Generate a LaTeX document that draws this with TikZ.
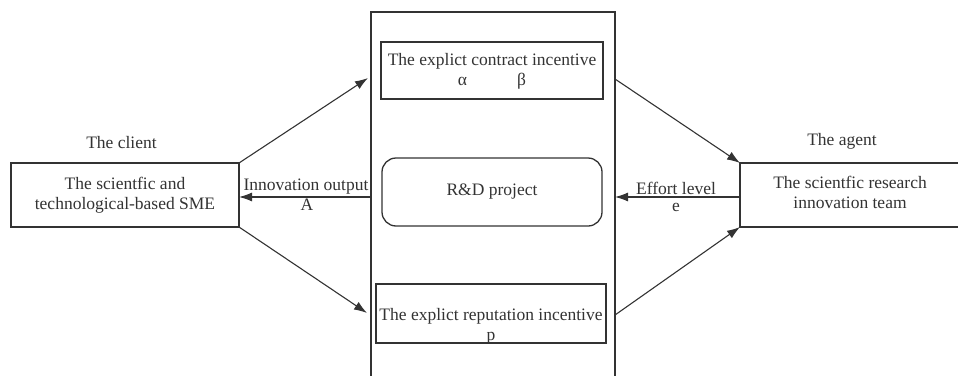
\documentclass[tikz,border=0pt]{standalone}
\usepackage{fontspec}
\setmainfont{Liberation Serif}
\usetikzlibrary{arrows.meta,positioning}
\definecolor{inkgray}{HTML}{333333}
\tikzset{%
	>={Latex[length=13pt,width=9pt]},
	every node/.style={inner sep=0pt,outer sep=0pt,text=inkgray,
		font=\fontsize{17.5}{20}\selectfont,align=center},%
	box/.style={draw=inkgray,line width=1.3pt},%
	roundbox/.style={box,rounded corners=14pt},%
	link/.style={->,draw=inkgray,line width=1.1pt}%
}

\begin{document}
\begin{tikzpicture}[x=1pt,y=-1pt]
		%% page frame
		\useasboundingbox (0,0) rectangle (958,375);
		\clip (0,0) rectangle (958,375);
		
		%% the project frame (open at the bottom)
		\coordinate (FL) at (371,12);
		\coordinate (FR) at (615,12);
		\draw[box] (371,390) -- (FL) -- (FR) -- (615,390);
		
		%% inner boxes
		\node[box,minimum width=222,minimum height=57] (contract) at (492,70.5) {};
		\node (contracttxt) at (492,71) {The explict contract incentive\\ α\hspace{50pt}β};
		\node[roundbox,minimum width=220,minimum height=68] (project) at (492,192) {R\&D project};
		\node[box,minimum width=230,minimum height=59] (reputation) at (491,313.5) {};
		\node (reputationtxt) at (491,326) {The explict reputation incentive\\ p};
		
		%% client and agent
		\node[box,minimum width=228,minimum height=64] (client) at (125,195)
		{The scientfic and\\technological-based SME};
		\node[box,minimum width=226,minimum height=64] (agent) at (853,195) {};
		\node (agenttxt) at (850,192.5) {The scientfic research\\innovation team};
		\node (clientlbl) at (121.5,143) {The client};
		\node (agentlbl) at (842,141) {The agent};
		
		%% end points on the frame
		\coordinate (c1) at (368,78);
		\coordinate (c2) at (367,313);
		\coordinate (c3) at (615,79);
		\coordinate (c4) at (615,315);
		\coordinate (c5) at (371,197);
		\coordinate (c6) at (615,197);
		
		%% connectors
		\draw[link] (client.north east) -- (c1);
		\draw[link] (client.south east) -- (c2);
		\draw[link] (c3) -- (agent.north west);
		\draw[link] (c4) -- (agent.south west);
		\draw[link] (c5) -- (c5 -| client.east);
		\draw[link] (c6 -| agent.west) -- (c6);
		
		%labelling the flows
		\node (outlbl) at (306,187) {Innovation output};
		\node (outsym) at (307,205) {A};
		\node (efflbl) at (676,188) {Effort level};
		\node (effsym) at (676,207) {e};
\end{tikzpicture}
\end{document}
